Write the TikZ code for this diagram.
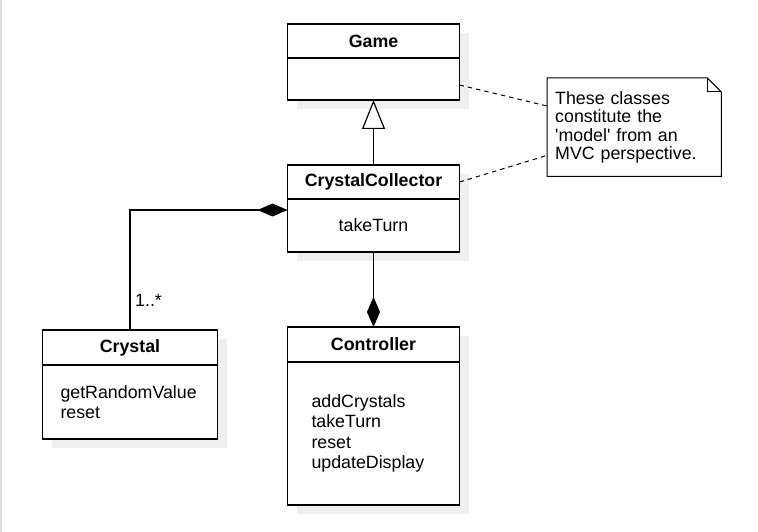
\documentclass[tikz,border=0pt]{standalone}
\usepackage{fontspec}
\setmainfont{Liberation Sans}[Ligatures=TeXOff]
\usetikzlibrary{arrows.meta,positioning,backgrounds}
\definecolor{shadowgray}{HTML}{EFEFEF}
\definecolor{edgestrip}{HTML}{DCDCDC}
\begin{document}
\begin{tikzpicture}[x=1pt,y=-1pt,
  hdr/.style={draw, line width=1.2pt, fill=white, minimum width=172pt, inner sep=0pt, outer sep=0pt, font=\fontsize{17.8}{20}\selectfont\bfseries},
  bdy/.style={draw, line width=1.2pt, fill=white, minimum width=172pt, inner sep=0pt, outer sep=0pt, font=\fontsize{17.8}{20.3}\selectfont},
  comp/.style={line width=1.2pt, -{Diamond[length=30pt,width=13pt]}},
  inh/.style={line width=1.2pt, -{Triangle[open,length=29pt,width=23pt,fill=white]}},
  link/.style={line width=1pt, dash pattern=on 4.5pt off 4pt},
  notetext/.style={font=\fontsize{17.8}{18.5}\selectfont}
]
\useasboundingbox (0,0) rectangle (758,532);

% Game
\node[hdr, minimum height=34pt] (gameH) at (373.5,41) {Game};
\node[bdy, minimum height=42pt, below=0pt of gameH] (gameB) {};

% CrystalCollector
\node[hdr, minimum height=34pt] (ccH) at (373.5,182) {CrystalCollector};
\node[bdy, minimum height=53pt, below=0pt of ccH] (ccB) {takeTurn};

% Crystal
\node[hdr, minimum width=175pt, minimum height=35pt] (crH) at (130,347.5) {Crystal};
\node[bdy, minimum width=175pt, minimum height=74pt, inner xsep=18pt, text width=139pt, align=left, below=0pt of crH] (crB) {getRandomValue\\reset};

% Controller
\node[hdr, minimum height=35pt] (ctH) at (373.5,344.5) {Controller};
\node[bdy, minimum height=143pt, inner xsep=24pt, text width=124pt, align=left, below=0pt of ctH] (ctB) {addCrystals\\takeTurn\\reset\\updateDisplay};

% Note
\node[notetext, anchor=north west, fill=white, minimum width=174pt, minimum height=98pt, text width=158pt, inner xsep=8pt, inner ysep=0pt, align=left] (note) at (547,78) {These classes\\constitute the\\'model' from an\\MVC perspective.};
\draw[line width=1pt] (note.north west) -- ([xshift=-14pt]note.north east) -- ([yshift=-14pt]note.north east) -- (note.south east) -- (note.south west) -- cycle;
\draw[line width=1pt] ([xshift=-14pt]note.north east) -- ([xshift=-14pt,yshift=-14pt]note.north east) -- ([yshift=-14pt]note.north east);

% connectors
\draw[inh] (ccH.north) -- (gameB.south);
\draw[comp] (crH.north) |- ([yshift=-11pt]ccB.north west);
\draw[comp] (ccB.south) -- (ctH.north);
\draw[link] ([yshift=-27pt]gameB.north east) -- ([yshift=-28pt]note.north west);
\draw[link] (ccH.east) -- ([yshift=21pt]note.south west);

\node[font=\fontsize{17.8}{20}\selectfont, anchor=base west, inner sep=0pt] (mult) at (135,306) {1..*};

% background and shadows
\begin{scope}[on background layer]
  \fill[white] (0,0) rectangle (758,532);
  \fill[edgestrip] (0,0) rectangle (2,532);
  \foreach \a/\b in {gameH/gameB, ccH/ccB, crH/crB, ctH/ctB}
    \fill[shadowgray] ([shift={(9pt,-9pt)}]\a.north west) rectangle ([shift={(9pt,-9pt)}]\b.south east);
\end{scope}
\end{tikzpicture}
\end{document}
